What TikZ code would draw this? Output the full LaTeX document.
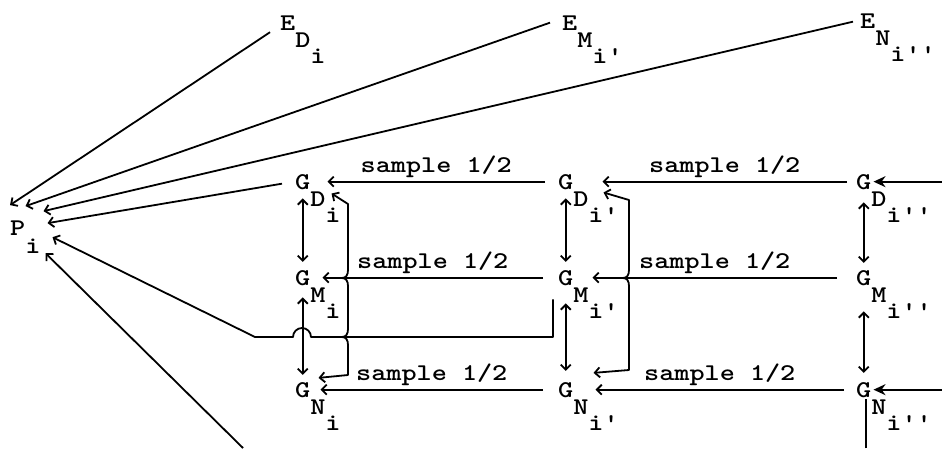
\documentclass[tikz,border=0pt]{standalone}
\usepackage{graphicx}
\usetikzlibrary{arrows.meta,calc}
\newcommand{\tw}[1]{\scalebox{1.2}[1]{#1}}
\newcommand{\lbl}[3]{\tw{#1}\rlap{\smash{\raisebox{-17pt}{\tw{#2}\raisebox{-16pt}{\tw{#3}}}}}}
\newcommand{\pr}{\textquotesingle}
\tikzset{
  sym/.style     = {inner sep=0pt, anchor=base west},
  wire/.style    = {line width=1.8pt, line join=round},
  feed/.style    = {wire, -{Straight Barb[length=5pt, width=10pt]}},
  twoway/.style  = {wire, {Straight Barb[length=5pt, width=10pt]}-{Straight Barb[length=5pt, width=10pt]}},
  link/.style 2 args = {twoway, shorten <=#1, shorten >=#2},
  inflow/.style  = {wire, -{Stealth[length=12pt, width=11pt]}},
  smp/.style     = {midway, above=3pt, inner sep=0pt},
}

\begin{document}
\begin{tikzpicture}[x=1pt, y=-1pt, font=\ttfamily\bfseries\fontsize{24}{28}\selectfont]
  \useasboundingbox (0,0) rectangle (942,448);

  \node[sym] (P)  at (10,235) {\tw{P}\rlap{\smash{\raisebox{-18pt}{\tw{i}}}}};
  \node[sym] (eD) at (280,30) {\lbl{E}{D}{i}};
  \node[sym] (eM) at (562,30) {\lbl{E}{M}{i\pr}};
  \node[sym] (eN) at (860,28) {\lbl{E}{N}{i\pr\pr}};
  \foreach \c/\x/\s in {a/295/{}, b/558/\pr, c/856/\pr\pr}
    \foreach \r/\y in {D/189, M/285, N/397}
      \node[sym] (g\r\c) at (\x,\y) {\lbl{G}{\r}{i\s}};

  \coordinate (tD) at ($(P.north west)+(0,-15)$);
  \coordinate (tM) at ($(P.north east)+(0,-14)$);
  \coordinate (tN) at ($(P.north east)+(18,-9)$);
  \coordinate (tG) at ($(P.north east)+(22,3)$);
  \coordinate (tL) at ($(P.south east)+(27,2)$);
  \coordinate (tB) at ($(P.south east)+(20,18)$);
  \coordinate (inB) at (243,448);
  \coordinate (inD) at ($(gDc.east)+(71,0)$);
  \coordinate (inN) at ($(gNc.east)+(71,0)$);
  \coordinate (inV) at ($(gNc.south)+(2,51)$);

  % into P
  \draw[feed] ($(eD.south west)+(-10,2)$) -- (tD);
  \draw[feed] ($(eM.west)+(-12,0)$) -- (tM);
  \draw[feed] ($(eN.west)+(-7,1)$) -- (tN);
  \draw[feed] ($(gDa.west)+(-13,2)$) -- (tG);
  \draw[feed] ($(gMb.south west)+(-5,14)$) |- (311,337)
    arc[start angle=0, end angle=-180, radius=9] -- (255,337) -- (tL);
  \draw[feed] (inB) -- (tB);

  % sample 1/2
  \draw[feed] ($(gDb.west)+(-13,0)$) -- node[smp] {\tw{sample 1/2}} ($(gDa.east)+(17,0)$);
  \draw[feed] ($(gMb.west)+(-15,0)$) -- node[smp] {\tw{sample 1/2}} ($(gMa.east)+(12,0)$);
  \draw[feed] ($(gNb.west)+(-15,0)$) -- node[smp] {\tw{sample 1/2}} ($(gNa.east)+(10,0)$);
  \draw[feed] ($(gDc.west)+(-9,0)$) -- node[smp] {\tw{sample 1/2}} ($(gDb.east)+(29,0)$);
  \draw[feed] ($(gMc.west)+(-19,0)$) -- node[smp] {\tw{sample 1/2}} ($(gMb.east)+(19,0)$);
  \draw[feed] ($(gNc.west)+(-12,0)$) -- node[smp] {\tw{sample 1/2}} ($(gNb.east)+(22,0)$);
  \draw[inflow] (inD) -- ($(gDc.east)+(2,0)$);
  \draw[inflow] (inN) -- ($(gNc.east)+(2,0)$);
  \draw[wire] (inV) -- ($(gNc.south)+(2,2)$);

  % up and down
  \draw[link={9pt}{8pt}] (gDa) -- (gMa);
  \draw[link={12pt}{7pt}] (gMa) -- (gNa);
  \draw[link={9pt}{8pt}] (gDb) -- (gMb);
  \draw[link={18pt}{11pt}] (gMb) -- (gNb);
  \draw[link={13pt}{7pt}] (gDc) -- (gMc);
  \draw[link={26pt}{9pt}] (gMc) -- (gNc);

  \draw[twoway] ($(gDa.south east)+(21,4)$) -- (348,204) -- (348,270)
    .. controls (348,275) and (346,278) .. (342,278) .. controls (346,278) and (348,281) .. (348,286)
    -- (348,329) .. controls (348,334) and (346,337) .. (342,337) .. controls (346,337) and (348,340) .. (348,345)
    -- (348,375) -- ($(gNa.north east)+(8,-4)$);
  \draw[twoway] ($(gDb.south east)+(30,3)$) -- (629,200) -- (629,270)
    .. controls (629,275) and (627,278) .. (623,278) .. controls (627,278) and (629,281) .. (629,286)
    -- (629,370) -- ($(gNb.north east)+(20,-9)$);
\end{tikzpicture}
\end{document}
